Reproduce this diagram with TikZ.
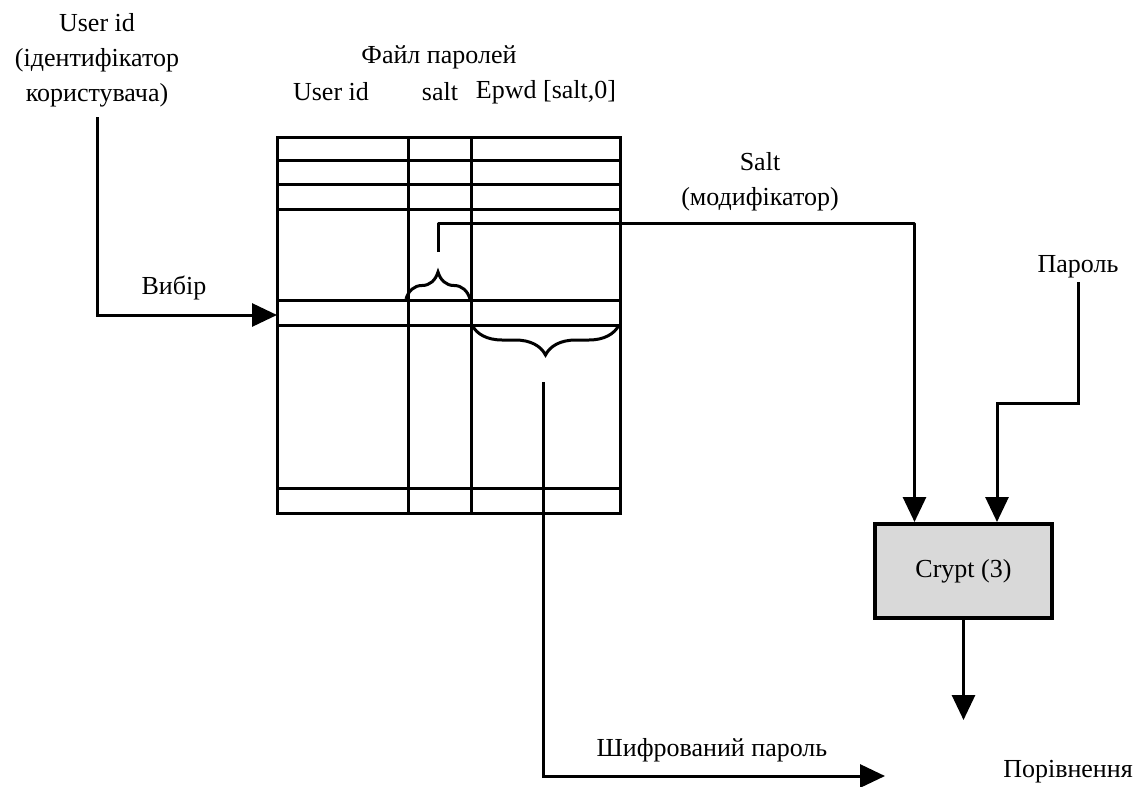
\documentclass[tikz,border=0pt]{standalone}
\usepackage{fontspec}
\setmainfont{Liberation Serif}
\usetikzlibrary{positioning,arrows.meta,decorations.pathreplacing}

\begin{document}
\begin{tikzpicture}[x=1pt,y=-1pt,line width=3pt,
  >={Triangle[length=25pt,width=23pt]},
  lbl/.style={font=\fontsize{26}{35}\selectfont,align=center,inner sep=0pt},
  cryptbox/.style={draw,line width=4pt,fill=black!15,minimum width=177pt,minimum height=94pt,
    font=\fontsize{26}{35}\selectfont},
  bracket/.style={decorate,decoration={brace,amplitude=#1}}]
  \useasboundingbox (0,0) rectangle (1146,787);
  \draw (277,137) rectangle (620,513);
  \foreach \y in {160,184,209,300,325,488}
    \draw (277,\y) -- (620,\y);
  \foreach \x in {408,471}
    \draw (\x,137) -- (\x,513);
  \draw[bracket=27pt] (406,299) -- (470,299);
  \draw[bracket=30pt] (619,325) -- (472,325);
  \node[lbl] (userid) at (97,60) {User id\\(ідентифікатор\\користувача)};
  \node[lbl] (file) at (439,57) {Файл паролей};
  \node[lbl] (hid) at (331,92) {User id};
  \node[lbl] (hsalt) at (440,92) {salt};
  \node[lbl] (hepwd) at (546,92) {Epwd [salt,0]};
  \node[lbl] (saltlbl) at (760,182) {Salt\\(модифікатор)};
  \node[lbl] (pwd) at (1078,267) {Пароль};
  \node[lbl] (sel) at (174,288) {Вибір};
  \node[cryptbox] (crypt) at (963.5,571) {Crypt (3)};
  \node[lbl] (enc) at (712,750) {Шифрований пароль};
  \node[lbl] (cmp) at (1068,772) {Порівнення};
  \coordinate (selrow) at (277,315);
  \coordinate (salttip) at (438,252);
  \coordinate (epwdtip) at (543,382);
  \coordinate (pwdbend) at (997,403);
  \coordinate (encend) at (885,776);
  \coordinate (cmpin) at (963.5,720);
  \draw[->] (userid.south |- 0,117) |- (selrow);
  \draw[->,line join=round] (salttip) -- (438,223) -| ([xshift=-49pt]crypt.north);
  \draw[->] (pwd.south |- 0,282) |- (pwdbend) -- (pwdbend |- crypt.north);
  \draw[->] (crypt.south) -- (cmpin);
  \draw[->] (epwdtip) |- (encend);
\end{tikzpicture}
\end{document}
